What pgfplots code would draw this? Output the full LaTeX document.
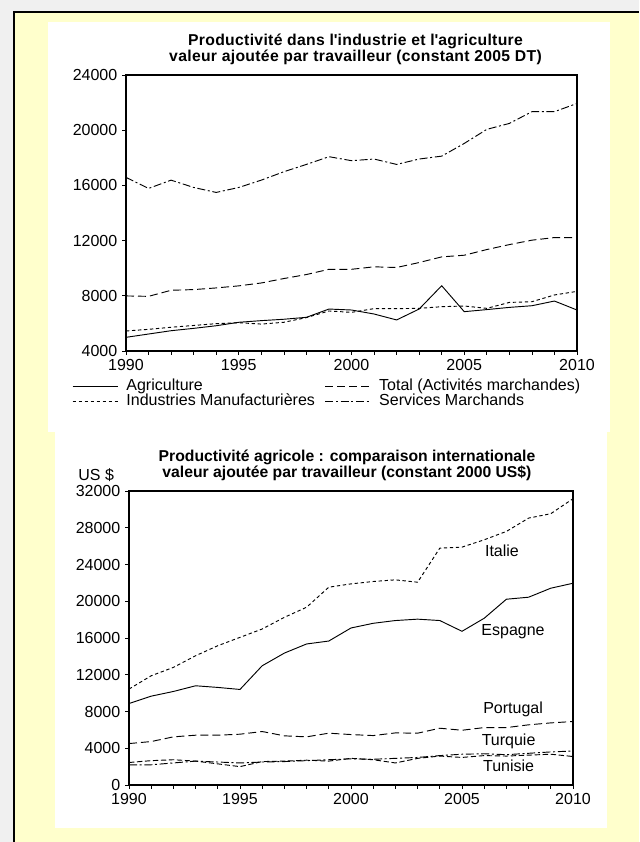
\documentclass[border=0pt]{standalone}
\usepackage{pgfplots}
\pgfplotsset{compat=1.18}
\usepackage{fontspec}
\setmainfont{Liberation Sans}
\definecolor{bgGray}{HTML}{F0F0F0}
\definecolor{panelYellow}{HTML}{FFFFCC}

% 1px of the reference = 0.75pt
\pgfplotsset{
  eviews/.style={
    scale only axis,
    anchor=south west,
    axis line style={line width=0.9pt},
    axis background/.style={fill=white},
    xmin=1990, xmax=2010,
    xtick={1990,1995,...,2010},
    minor xtick={1990,...,2010},
    tick pos=left,
    tick align=outside,
    major tick length=3pt,
    minor tick length=3pt,
    tick style={black, line width=0.5pt},
    scaled y ticks=false,
    ticklabel style={font=\fontsize{12}{12}\selectfont},
    /pgf/number format/assume math mode=true,
    /pgf/number format/set thousands separator={},
    title style={font=\fontsize{11.8}{10.6}\selectfont\bfseries, align=center, yshift=-2pt},
    every axis plot/.append style={black, line width=0.7pt},
  },
  shortdash/.style={dash pattern=on 2.5pt off 2pt},
  longdash/.style={dash pattern=on 6pt off 3pt},
  dashdot/.style={dash pattern=on 6pt off 2pt on 1.5pt off 2pt},
  meddash/.style={dash pattern=on 4pt off 2pt},
}

\begin{document}
\begin{tikzpicture}
\path[use as bounding box] (0,0) rectangle (479.25pt,631.5pt);
\fill[bgGray] (0,0) rectangle (479.25pt,631.5pt);
\fill[panelYellow] (10.5pt,0) rectangle (479.25pt,622.5pt);
\draw[black, line width=1.2pt] (10.5pt,0) -- (10.5pt,622.5pt) -- (479.25pt,622.5pt);
\fill[white] (36pt,307.5pt) rectangle (457.5pt,615pt);
\fill[white] (41.25pt,10.5pt) rectangle (455.25pt,310pt);

% ---- top chart
\begin{axis}[eviews,
  at={(94.5pt,368.25pt)},
  width=338.25pt, height=207pt,
  ymin=4000, ymax=24000,
  ytick={4000,8000,...,24000},
  title style={xshift=3pt, font=\fontsize{11.8}{10.6}\selectfont\bfseries\addfontfeatures{LetterSpace=2}},
  title={Productivité dans l\textquotesingle industrie et l\textquotesingle agriculture\\valeur ajoutée par travailleur (constant 2005 DT)},
  legend columns=2,
  legend cell align=left,
  legend image code/.code={\draw[#1] (0pt,0pt) -- (34pt,0pt);},
  legend style={at={(-0.12,-0.102)}, anchor=north west, draw=none, fill=none,
    inner sep=0pt,
    font=\fontsize{12}{12}\selectfont,
    nodes={inner sep=0pt, text height=8.6pt, text depth=2.4pt},
    /tikz/every odd column/.append style={column sep=6pt},
    /tikz/every even column/.append style={column sep=7.5pt}},
]
\addplot[solid] coordinates {
(1990,4990) (1991,5230) (1992,5470) (1993,5640) (1994,5830) (1995,6080) (1996,6200)
(1997,6300) (1998,6440) (1999,7040) (2000,6970) (2001,6680) (2002,6250) (2003,7040)
(2004,8730) (2005,6850) (2006,7000) (2007,7160) (2008,7280) (2009,7620) (2010,6970)};
\addlegendentry{Agriculture}
\addplot[longdash] coordinates {
(1990,7990) (1991,7960) (1992,8400) (1993,8450) (1994,8570) (1995,8720) (1996,8930)
(1997,9250) (1998,9540) (1999,9920) (2000,9920) (2001,10100) (2002,10050) (2003,10410)
(2004,10820) (2005,10940) (2006,11350) (2007,11710) (2008,12030) (2009,12220) (2010,12220)};
\addlegendentry{Total (Activités marchandes)}
\addplot[shortdash] coordinates {
(1990,5450) (1991,5570) (1992,5720) (1993,5850) (1994,5980) (1995,6050) (1996,5950)
(1997,6080) (1998,6420) (1999,6900) (2000,6800) (2001,7070) (2002,7070) (2003,7090)
(2004,7210) (2005,7260) (2006,7090) (2007,7520) (2008,7570) (2009,8060) (2010,8320)};
\addlegendentry{Industries Manufacturières}
\addplot[dashdot] coordinates {
(1990,16580) (1991,15780) (1992,16380) (1993,15850) (1994,15490) (1995,15850) (1996,16380)
(1997,16990) (1998,17520) (1999,18080) (2000,17790) (2001,17910) (2002,17520) (2003,17910)
(2004,18120) (2005,19040) (2006,20060) (2007,20490) (2008,21340) (2009,21340) (2010,21940)};
\addlegendentry{Services Marchands}
\end{axis}

% ---- bottom chart
\begin{axis}[eviews,
  at={(96.75pt,42.75pt)},
  width=333pt, height=220.5pt,
  ymin=0, ymax=32000,
  ytick={0,4000,...,32000},
  title style={xshift=-3pt},
  title={Productivité agricole : comparaison internationale\\valeur ajoutée par travailleur (constant 2000 US\$)},
]
\addplot[solid] coordinates {
(1990,8870) (1991,9670) (1992,10180) (1993,10800) (1994,10620) (1995,10400) (1996,12980)
(1997,14360) (1998,15350) (1999,15670) (2000,17090) (2001,17600) (2002,17900) (2003,18050)
(2004,17900) (2005,16730) (2006,18150) (2007,20220) (2008,20440) (2009,21420) (2010,21960)};
\addplot[shortdash] coordinates {
(1990,10440) (1991,11890) (1992,12800) (1993,14070) (1994,15160) (1995,16070) (1996,16980)
(1997,18250) (1998,19350) (1999,21530) (2000,21890) (2001,22150) (2002,22330) (2003,22070)
(2004,25780) (2005,25890) (2006,26690) (2007,27600) (2008,29050) (2009,29530) (2010,31160)};
\addplot[longdash] coordinates {
(1990,4510) (1991,4730) (1992,5240) (1993,5420) (1994,5420) (1995,5530) (1996,5820)
(1997,5350) (1998,5240) (1999,5640) (2000,5490) (2001,5380) (2002,5670) (2003,5640)
(2004,6180) (2005,5960) (2006,6250) (2007,6250) (2008,6550) (2009,6760) (2010,6910)};
\addplot[meddash] coordinates {
(1990,2450) (1991,2650) (1992,2750) (1993,2600) (1994,2300) (1995,2000) (1996,2550)
(1997,2600) (1998,2700) (1999,2600) (2000,2900) (2001,2750) (2002,2400) (2003,2900)
(2004,3150) (2005,3000) (2006,3200) (2007,3150) (2008,3250) (2009,3350) (2010,3100)};
\addplot[dashdot] coordinates {
(1990,2200) (1991,2200) (1992,2400) (1993,2600) (1994,2500) (1995,2400) (1996,2500)
(1997,2550) (1998,2650) (1999,2750) (2000,2850) (2001,2800) (2002,2900) (2003,3000)
(2004,3200) (2005,3350) (2006,3400) (2007,3300) (2008,3450) (2009,3600) (2010,3700)};
\begin{scope}[every node/.style={font=\fontsize{12}{12}\selectfont}]
\node at (axis cs:2006.8,25500) {Italie};
\node at (axis cs:2007.3,16700) {Espagne};
\node at (axis cs:2007.3,8200) {Portugal};
\node at (axis cs:2007.1,4800) {Turquie};
\node at (axis cs:2007.1,2050) {Tunisie};
\end{scope}
\end{axis}
\node[anchor=east, font=\fontsize{12}{12}\selectfont] at (89pt,275.25pt) {US \$};
\end{tikzpicture}
\end{document}
